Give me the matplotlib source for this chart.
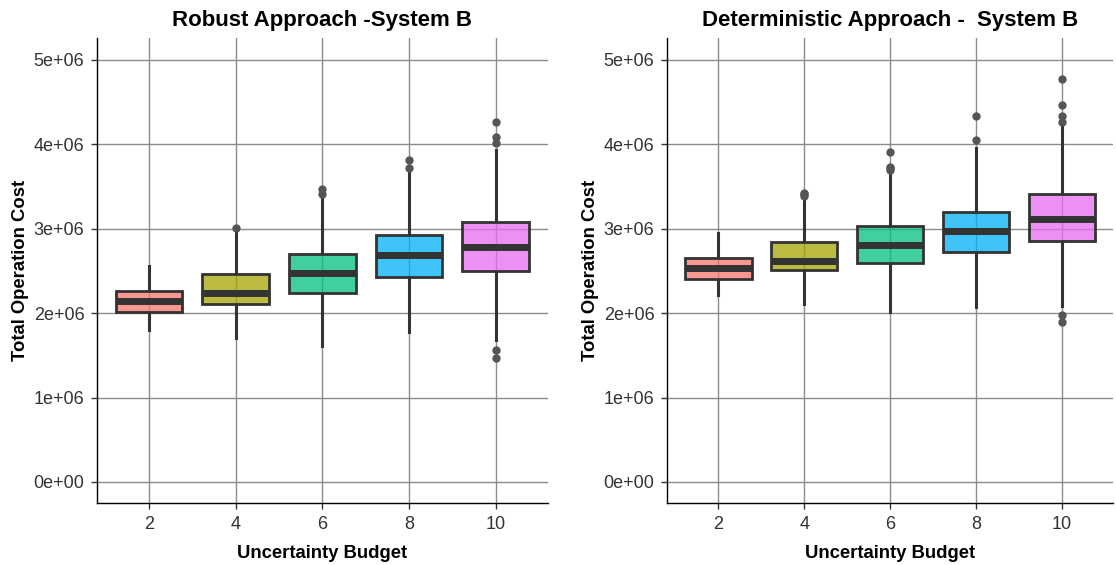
import numpy as np
import matplotlib.pyplot as plt

plt.rcParams['font.family'] = ['Liberation Sans', 'DejaVu Sans']

budgets = ['2', '4', '6', '8', '10']
colors = ['#F8766D', '#A3A500', '#00BF7D', '#00B0F6', '#E76BF3']

# robust approach: box stats per uncertainty budget
rob_low = [1.80e6, 1.70e6, 1.61e6, 1.78e6, 1.68e6]
rob_q1 = [2.01e6, 2.11e6, 2.24e6, 2.43e6, 2.50e6]
rob_med = [2.14e6, 2.24e6, 2.47e6, 2.69e6, 2.78e6]
rob_q3 = [2.26e6, 2.46e6, 2.70e6, 2.93e6, 3.08e6]
rob_high = [2.56e6, 2.98e6, 3.40e6, 3.68e6, 3.93e6]
rob_out = [[], [3.01e6], [3.41e6, 3.47e6], [3.72e6, 3.82e6],
           [1.47e6, 1.56e6, 4.02e6, 4.09e6, 4.26e6]]

# deterministic approach
det_low = [2.22e6, 2.11e6, 2.01e6, 2.07e6, 2.08e6]
det_q1 = [2.41e6, 2.51e6, 2.60e6, 2.72e6, 2.86e6]
det_med = [2.53e6, 2.62e6, 2.81e6, 2.97e6, 3.12e6]
det_q3 = [2.65e6, 2.84e6, 3.03e6, 3.20e6, 3.41e6]
det_high = [2.95e6, 3.37e6, 3.66e6, 3.96e6, 4.24e6]
det_out = [[], [3.39e6, 3.41e6, 3.42e6], [3.70e6, 3.72e6, 3.73e6, 3.91e6],
           [4.05e6, 4.34e6], [1.89e6, 1.98e6, 4.26e6, 4.34e6, 4.47e6, 4.78e6]]

yticks = [0, 1e6, 2e6, 3e6, 4e6, 5e6]
ylabels = ['0e+00', '1e+06', '2e+06', '3e+06', '4e+06', '5e+06']


def stats(low, q1, med, q3, high, out):
    return [dict(whislo=a, q1=b, med=c, q3=d, whishi=e, fliers=f)
            for a, b, c, d, e, f in zip(low, q1, med, q3, high, out)]


def draw(ax, st, title):
    pos = np.arange(len(budgets))
    ax.set_axisbelow(True)
    ax.grid(True, color='#8c8c8c', linewidth=1.0)
    bp = ax.bxp(st, positions=pos, widths=0.77, patch_artist=True, showfliers=True,
                boxprops=dict(edgecolor='#333333', linewidth=2.0),
                medianprops=dict(color='#333333', linewidth=5.0, solid_capstyle='butt'),
                whiskerprops=dict(color='#333333', linewidth=2.2),
                capprops=dict(linewidth=0),
                flierprops=dict(marker='o', markersize=5, markerfacecolor='#555555',
                                markeredgecolor='#555555'))
    for patch, c in zip(bp['boxes'], colors):
        r, g, b, _ = plt.matplotlib.colors.to_rgba(c)
        patch.set_facecolor((r, g, b, 0.75))
        patch.set_zorder(3)
    for m in bp['medians']:
        m.set_zorder(4)
    ax.set_xticks(pos)
    ax.set_xticklabels(budgets)
    ax.set_xlim(-0.6, len(budgets) - 0.4)
    ax.set_yticks(yticks)
    ax.set_yticklabels(ylabels)
    ax.set_ylim(-0.25e6, 5.26e6)
    for s in ['top', 'right']:
        ax.spines[s].set_visible(False)
    for s in ['left', 'bottom']:
        ax.spines[s].set_color('black')
        ax.spines[s].set_linewidth(1.0)
    ax.tick_params(labelsize=13, labelcolor='#333333', length=4, width=1,
                   color='#333333', pad=5)
    ax.set_title(title, fontsize=16, fontweight='bold', pad=9)
    ax.set_xlabel('Uncertainty Budget', fontsize=13.3, fontweight='bold', labelpad=9)
    ax.set_ylabel('Total Operation Cost', fontsize=13.3, fontweight='bold', labelpad=3)


fig = plt.figure(figsize=(11.16, 5.65), dpi=100)
ax1 = fig.add_axes([0.0869, 0.1097, 0.404, 0.823])
ax2 = fig.add_axes([0.5977, 0.1097, 0.3996, 0.823])

draw(ax1, stats(rob_low, rob_q1, rob_med, rob_q3, rob_high, rob_out),
     'Robust Approach -System B')
draw(ax2, stats(det_low, det_q1, det_med, det_q3, det_high, det_out),
     'Deterministic Approach -  System B')

fig.savefig('out.png', dpi=100)
